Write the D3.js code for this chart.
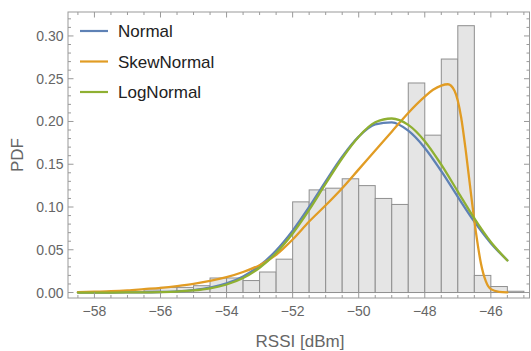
<!DOCTYPE html>
<html>
<head>
<meta charset="utf-8">
<script src="https://cdn.jsdelivr.net/npm/d3@7"></script>
<style>
  body { margin: 0; background: #fff; }
  text { font-family: "Liberation Sans", Arial, sans-serif; }
</style>
</head>
<body>
<div id="chart"></div>
<script>
// histogram bins (left edge, 0.5 dBm wide) and density
var binStart = [-56.5, -56, -55.5, -55, -54.5, -54, -53.5, -53, -52.5, -52, -51.5, -51,
                -50.5, -50, -49.5, -49, -48.5, -48, -47.5, -47, -46.5, -46, -45.5];
var binDensity = [0.003, 0.006, 0.006, 0.008, 0.017, 0.017, 0.014, 0.024, 0.039, 0.106, 0.120, 0.122,
                  0.133, 0.125, 0.110, 0.103, 0.245, 0.184, 0.273, 0.312, 0.020, 0.007, 0.0015];

// fitted curves
var fitX = [-58.5, -58, -57.5, -57, -56.5, -56, -55.5, -55, -54.5, -54, -53.5, -53, -52.5, -52,
            -51.5, -51, -50.5, -50, -49.5, -49, -48.5, -48, -47.5, -47, -46.5, -46, -45.5];
var normalY = [0, 0, 0, 0.0001, 0.0002, 0.0006, 0.0013, 0.0028, 0.0056, 0.0106, 0.0187, 0.0313, 0.0491, 0.0723,
               0.100, 0.130, 0.1588, 0.1823, 0.1965, 0.1989, 0.1892, 0.1691, 0.1419, 0.1119, 0.0829, 0.0577, 0.0377];
var logNormalY = [0, 0, 0, 0.0001, 0.0002, 0.0005, 0.0011, 0.0024, 0.0049, 0.0094, 0.017, 0.029, 0.0462, 0.069,
                  0.0966, 0.1272, 0.157, 0.1822, 0.199, 0.2035, 0.196, 0.177, 0.1495, 0.118, 0.0866, 0.059, 0.0375];
var skewX = [-58.5, -58, -57.5, -57, -56.5, -56, -55.5, -55, -54.5, -54, -53.5, -53, -52.5, -52,
             -51.5, -51, -50.5, -50, -49.5, -49, -48.5, -48, -47.75, -47.5, -47.3, -47.1, -46.9,
             -46.75, -46.6, -46.45, -46.3, -46.15, -46, -45.75, -45.5];
var skewY = [0.0005, 0.001, 0.0015, 0.0025, 0.004, 0.0055, 0.0075, 0.010, 0.0135, 0.018, 0.024, 0.032, 0.044, 0.062,
             0.083, 0.102, 0.122, 0.144, 0.166, 0.188, 0.210, 0.229, 0.237, 0.242, 0.2435, 0.236, 0.205,
             0.163, 0.115, 0.070, 0.034, 0.013, 0.004, 0.0008, 0.0002];

var seriesNames = ["Normal", "SkewNormal", "LogNormal"];
var seriesColors = ["#5e81b5", "#e19c24", "#8fb032"];

var xTickMajor = [-58, -56, -54, -52, -50, -48, -46];
var yTickMajor = [0, 0.05, 0.10, 0.15, 0.20, 0.25, 0.30];

var width = 531, height = 351;
var margin = {top: 12, right: 1.5, bottom: 53, left: 68};

var svg = d3.select("#chart").append("svg")
    .attr("width", width)
    .attr("height", height);

var x = d3.scaleLinear().domain([-58.8, -44.83]).range([margin.left, width - margin.right]);
var y = d3.scaleLinear().domain([-0.0064, 0.328]).range([height - margin.bottom, margin.top]);

svg.append("clipPath").attr("id", "plot")
  .append("rect")
    .attr("x", margin.left).attr("y", margin.top)
    .attr("width", width - margin.right - margin.left)
    .attr("height", height - margin.bottom - margin.top);

var plot = svg.append("g").attr("clip-path", "url(#plot)");

// bars
plot.selectAll("rect.bar")
  .data(binStart)
  .join("rect")
    .attr("class", "bar")
    .attr("x", d => x(d))
    .attr("width", d => x(d + 0.5) - x(d))
    .attr("y", (d, i) => y(binDensity[i]))
    .attr("height", (d, i) => y(0) - y(binDensity[i]))
    .style("fill", "#e5e5e5")
    .style("stroke", "#8f8f8f")
    .style("stroke-width", 1);

var line = d3.line().curve(d3.curveMonotoneX).x(d => x(d[0])).y(d => y(d[1]));

var curves = [
  fitX.map((v, i) => [v, normalY[i]]),
  skewX.map((v, i) => [v, skewY[i]]),
  fitX.map((v, i) => [v, logNormalY[i]])
];

plot.selectAll("path.fit")
  .data(curves)
  .join("path")
    .attr("class", "fit")
    .attr("d", line)
    .style("fill", "none")
    .style("stroke", (d, i) => seriesColors[i])
    .style("stroke-width", 2.3)
    .style("stroke-linecap", "round");

// frame with ticks on all sides
var frameColor = "#9a9a9a";
var x0 = margin.left, x1 = width - margin.right, y0 = height - margin.bottom, y1 = margin.top;

svg.append("rect")
    .attr("x", x0).attr("y", y1)
    .attr("width", x1 - x0).attr("height", y0 - y1)
    .style("fill", "none")
    .style("stroke", frameColor)
    .style("stroke-width", 1);

var xMinor = d3.range(-58.5, -44.9, 0.5).filter(v => xTickMajor.indexOf(v) < 0);
var yMinor = d3.range(0, 0.325, 0.01).map(v => Math.round(v * 100) / 100)
    .filter(v => yTickMajor.indexOf(v) < 0);

var ticks = svg.append("g").style("stroke", frameColor).style("stroke-width", 1);

function xTicks(vals, len) {
  ticks.selectAll(null).data(vals).join("line")
    .attr("x1", d => x(d)).attr("x2", d => x(d))
    .attr("y1", y0).attr("y2", y0 - len);
  ticks.selectAll(null).data(vals).join("line")
    .attr("x1", d => x(d)).attr("x2", d => x(d))
    .attr("y1", y1).attr("y2", y1 + len);
}
function yTicks(vals, len) {
  ticks.selectAll(null).data(vals).join("line")
    .attr("y1", d => y(d)).attr("y2", d => y(d))
    .attr("x1", x0).attr("x2", x0 + len);
  ticks.selectAll(null).data(vals).join("line")
    .attr("y1", d => y(d)).attr("y2", d => y(d))
    .attr("x1", x1).attr("x2", x1 - len);
}
xTicks(xTickMajor, 5.5);
xTicks(xMinor, 3);
yTicks(yTickMajor, 5.5);
yTicks(yMinor, 3);

var labelColor = "#666";

svg.selectAll("text.xt")
  .data(xTickMajor)
  .join("text")
    .attr("class", "xt")
    .attr("x", d => x(d))
    .attr("y", y0 + 18)
    .attr("text-anchor", "middle")
    .style("font-size", "14px")
    .style("fill", labelColor)
    .text(d => "\u2212" + Math.abs(d));

svg.selectAll("text.yt")
  .data(yTickMajor)
  .join("text")
    .attr("class", "yt")
    .attr("x", x0 - 4.5)
    .attr("y", d => y(d) + 5)
    .attr("text-anchor", "end")
    .style("font-size", "14px")
    .style("fill", labelColor)
    .text(d => d.toFixed(2));

svg.append("text")
    .attr("x", 300)
    .attr("y", 347)
    .attr("text-anchor", "middle")
    .style("font-size", "17px")
    .style("fill", labelColor)
    .text("RSSI [dBm]");

svg.append("text")
    .attr("transform", "translate(23,155) rotate(-90)")
    .attr("text-anchor", "middle")
    .style("font-size", "17px")
    .style("fill", labelColor)
    .text("PDF");

// legend
var legend = svg.selectAll("g.legend")
  .data(seriesNames)
  .join("g")
    .attr("class", "legend")
    .attr("transform", (d, i) => "translate(80," + (31 + i * 30.5) + ")");

legend.append("line")
    .attr("x1", 0).attr("x2", 28)
    .style("stroke", (d, i) => seriesColors[i])
    .style("stroke-width", 2.2);

legend.append("text")
    .attr("x", 38)
    .attr("y", 6)
    .style("font-size", "17px")
    .style("fill", "#222")
    .text(d => d);
</script>
</body>
</html>
